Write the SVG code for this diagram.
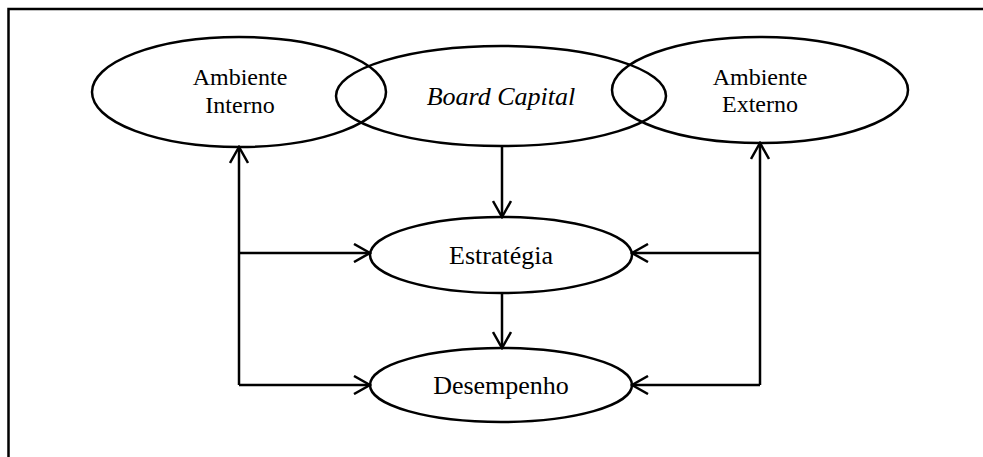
<svg xmlns="http://www.w3.org/2000/svg" width="983" height="457" viewBox="0 0 983 457">
<style>
.frame{fill:none;stroke:#000;stroke-width:2.5}
.node ellipse{fill:none;stroke:#000;stroke-width:2.5}
.lbl{font-family:"Liberation Serif","Times New Roman",serif;font-size:24px;fill:#000;text-anchor:middle}
.big{font-size:26px}
.it{font-style:italic}
.conn path{fill:none;stroke:#000;stroke-width:2.5}
</style>
<defs>
<marker id="arr" viewBox="0 0 20 20" refX="18" refY="10" markerWidth="20" markerHeight="20" markerUnits="userSpaceOnUse" orient="auto">
<path d="M2,1 L18,10 L2,19" fill="none" stroke="#000" stroke-width="2.5"/>
</marker>
</defs>
<path class="frame" d="M8.5,457 V9 H983"/>
<g id="ambiente-interno" class="node">
<ellipse cx="239" cy="92" rx="147" ry="55"/>
<text class="lbl" x="240" y="85">Ambiente</text>
<text class="lbl" x="240" y="113">Interno</text>
</g>
<g id="board-capital" class="node">
<ellipse cx="501" cy="96" rx="165" ry="50"/>
<text class="lbl big it" x="501" y="105">Board Capital</text>
</g>
<g id="ambiente-externo" class="node">
<ellipse cx="760" cy="90" rx="148" ry="53"/>
<text class="lbl" x="760" y="85">Ambiente</text>
<text class="lbl" x="760" y="112">Externo</text>
</g>
<g id="estrategia" class="node">
<ellipse cx="501" cy="255" rx="131" ry="38"/>
<text class="lbl big" x="501" y="264">Estratégia</text>
</g>
<g id="desempenho" class="node">
<ellipse cx="501" cy="385" rx="131" ry="37"/>
<text class="lbl big" x="501" y="394">Desempenho</text>
</g>
<g id="connectors" class="conn">
<path d="M502,146 V217" marker-end="url(#arr)"/>
<path d="M502,293 V348" marker-end="url(#arr)"/>
<path d="M239,385 V147" marker-end="url(#arr)"/>
<path d="M239,253 H370" marker-end="url(#arr)"/>
<path d="M239,385 H370" marker-end="url(#arr)"/>
<path d="M760,385 V143" marker-end="url(#arr)"/>
<path d="M760,253 H632" marker-end="url(#arr)"/>
<path d="M760,385 H632" marker-end="url(#arr)"/>
</g>
</svg>
